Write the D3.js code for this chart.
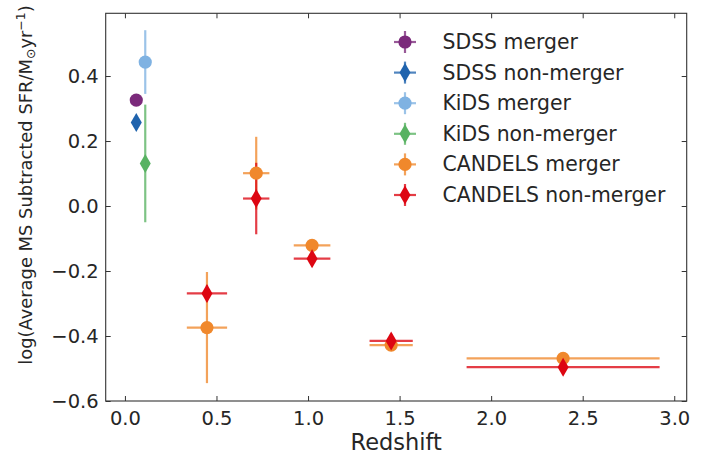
<!DOCTYPE html>
<html><head><meta charset="utf-8">
<script src="https://cdn.jsdelivr.net/npm/d3@7"></script>
<style>
body{margin:0;background:#fff;}
text{font-family:"DejaVu Sans",sans-serif;fill:#262626;}
</style></head>
<body><svg id="c" width="713" height="459"></svg>
<script>
// ---- data ----
const seriesNames = ["SDSS merger","SDSS non-merger","KiDS merger","KiDS non-merger","CANDELS merger","CANDELS non-merger"];
const seriesColors = ["#7b2a7b","#1f63ad","#7fb2e2","#58b262","#f0882c","#dd0612"];
const seriesShapes = ["circle","diamond","circle","diamond","circle","diamond"];

const sdssMergerX = [0.062],  sdssMergerY = [0.326],  sdssMergerXerr = [0], sdssMergerYerr = [0.005];
const sdssNonX = [0.062],     sdssNonY = [0.257],     sdssNonXerr = [0],    sdssNonYerr = [0.005];
const kidsMergerX = [0.111],  kidsMergerY = [0.443],  kidsMergerXerr = [0], kidsMergerYerr = [0.098];
const kidsNonX = [0.111],     kidsNonY = [0.131],     kidsNonXerr = [0],    kidsNonYerr = [0.181];
const candelsMergerX = [0.448, 0.717, 1.022, 1.454, 2.393];
const candelsMergerY = [-0.374, 0.101, -0.121, -0.428, -0.469];
const candelsMergerXerr = [0.110, 0.072, 0.100, 0.118, 0.527];
const candelsMergerYerr = [0.171, 0.112, 0.010, 0.005, 0.005];
const candelsNonX = [0.448, 0.717, 1.022, 1.454, 2.393];
const candelsNonY = [-0.269, 0.023, -0.162, -0.415, -0.496];
const candelsNonXerr = [0.110, 0.072, 0.100, 0.118, 0.527];
const candelsNonYerr = [0.025, 0.110, 0.020, 0.020, 0.020];

const xTicks = [0.0, 0.5, 1.0, 1.5, 2.0, 2.5, 3.0];
const yTicks = [-0.6, -0.4, -0.2, 0.0, 0.2, 0.4];

const seriesData = [
  [sdssMergerX, sdssMergerY, sdssMergerXerr, sdssMergerYerr],
  [sdssNonX, sdssNonY, sdssNonXerr, sdssNonYerr],
  [kidsMergerX, kidsMergerY, kidsMergerXerr, kidsMergerYerr],
  [kidsNonX, kidsNonY, kidsNonXerr, kidsNonYerr],
  [candelsMergerX, candelsMergerY, candelsMergerXerr, candelsMergerYerr],
  [candelsNonX, candelsNonY, candelsNonXerr, candelsNonYerr]
].map((a, i) => ({
  name: seriesNames[i], color: seriesColors[i], shape: seriesShapes[i],
  pts: a[0].map((x, j) => ({x, y: a[1][j], xe: a[2][j], ye: a[3][j]}))
}));

// ---- layout ----
const L = 105.7, R = 686.7, T = 13.3, B = 401;
const x = d3.scaleLinear().domain([-0.105, 3.068]).range([L, R]);
const y = d3.scaleLinear().domain([-0.6, 0.593]).range([B, T]);
const svg = d3.select("#c");

const circleSym = d3.symbol().type(d3.symbolCircle).size(Math.PI * 6.6 * 6.6);
function diamondPath(h, w){ return `M0,${-h/2}L${w/2},0L0,${h/2}L${-w/2},0Z`; }
function markerPath(shape){ return shape === "circle" ? circleSym() : diamondPath(19, 11); }

const LW = 2.2, LOP = 0.78;

// error lines (drawn below all markers)
const gLines = svg.append("g");
seriesData.forEach(s => {
  s.pts.forEach(p => {
    if (p.ye > 0) gLines.append("line").attr("x1", x(p.x)).attr("x2", x(p.x))
      .attr("y1", y(p.y - p.ye)).attr("y2", y(p.y + p.ye))
      .attr("stroke", s.color).attr("stroke-width", LW).attr("stroke-opacity", LOP);
    if (p.xe > 0) gLines.append("line").attr("x1", x(p.x - p.xe)).attr("x2", x(p.x + p.xe))
      .attr("y1", y(p.y)).attr("y2", y(p.y))
      .attr("stroke", s.color).attr("stroke-width", LW).attr("stroke-opacity", LOP);
  });
});
// markers
const gMarks = svg.append("g");
seriesData.forEach(s => {
  s.pts.forEach(p => {
    gMarks.append("path").attr("d", markerPath(s.shape))
      .attr("transform", `translate(${x(p.x)},${y(p.y)})`).attr("fill", s.color);
  });
});

// ---- axes ----
const fmt = d3.format(".1f");
const axB = svg.append("g").attr("transform", `translate(0,${B})`)
  .call(d3.axisBottom(x).tickValues(xTicks).tickFormat(fmt).tickSizeInner(-5).tickSizeOuter(0).tickPadding(10));
const axT = svg.append("g").attr("transform", `translate(0,${T})`)
  .call(d3.axisTop(x).tickValues(xTicks).tickFormat("").tickSizeInner(-5).tickSizeOuter(0));
const axLft = svg.append("g").attr("transform", `translate(${L},0)`)
  .call(d3.axisLeft(y).tickValues(yTicks).tickFormat(fmt).tickSizeInner(-5).tickSizeOuter(0).tickPadding(7));
const axRt = svg.append("g").attr("transform", `translate(${R},0)`)
  .call(d3.axisRight(y).tickValues(yTicks).tickFormat("").tickSizeInner(-5).tickSizeOuter(0));
[axB, axT, axLft, axRt].forEach(g => {
  g.select(".domain").remove();
  g.selectAll(".tick line").attr("stroke", "#333").attr("stroke-width", 1);
  g.selectAll(".tick text").attr("font-family", "DejaVu Sans").attr("font-size", "19.5px").attr("fill", "#262626");
});
svg.append("rect").attr("x", L).attr("y", T).attr("width", R - L).attr("height", B - T)
  .attr("fill", "none").attr("stroke", "#333").attr("stroke-width", 1.1);

// axis labels
svg.append("text").attr("x", (L + R) / 2).attr("y", 450).attr("text-anchor", "middle")
  .attr("font-size", "22.5px").text("Redshift");
const yl = svg.append("text").attr("transform", "translate(32,185) rotate(-90)")
  .attr("text-anchor", "middle").attr("font-size", "17.9px");
yl.append("tspan").text("log(Average MS Subtracted SFR/M");
yl.append("tspan").attr("font-size", "12.5px").attr("dy", "3").text("\u2299");
yl.append("tspan").attr("dy", "-3").text("yr");
yl.append("tspan").attr("font-size", "12.5px").attr("dy", "-7").text("\u22121");
yl.append("tspan").attr("dy", "7").text(")");

// ---- legend ----
const legX = 405, legY0 = 42, legDy = 30.6;
const leg = svg.append("g");
seriesData.forEach((s, i) => {
  const cy = legY0 + i * legDy;
  const g = leg.append("g").attr("transform", `translate(${legX},${cy})`);
  g.append("line").attr("x1", 0).attr("x2", 0).attr("y1", -11).attr("y2", 11)
    .attr("stroke", s.color).attr("stroke-width", LW).attr("stroke-opacity", LOP);
  g.append("line").attr("x1", -11).attr("x2", 11).attr("y1", 0).attr("y2", 0)
    .attr("stroke", s.color).attr("stroke-width", LW).attr("stroke-opacity", LOP);
  g.append("path").attr("d", markerPath(s.shape)).attr("fill", s.color);
  leg.append("text").attr("x", 442.5).attr("y", cy + 7).attr("font-size", "20.4px").text(s.name);
});
</script></body></html>
